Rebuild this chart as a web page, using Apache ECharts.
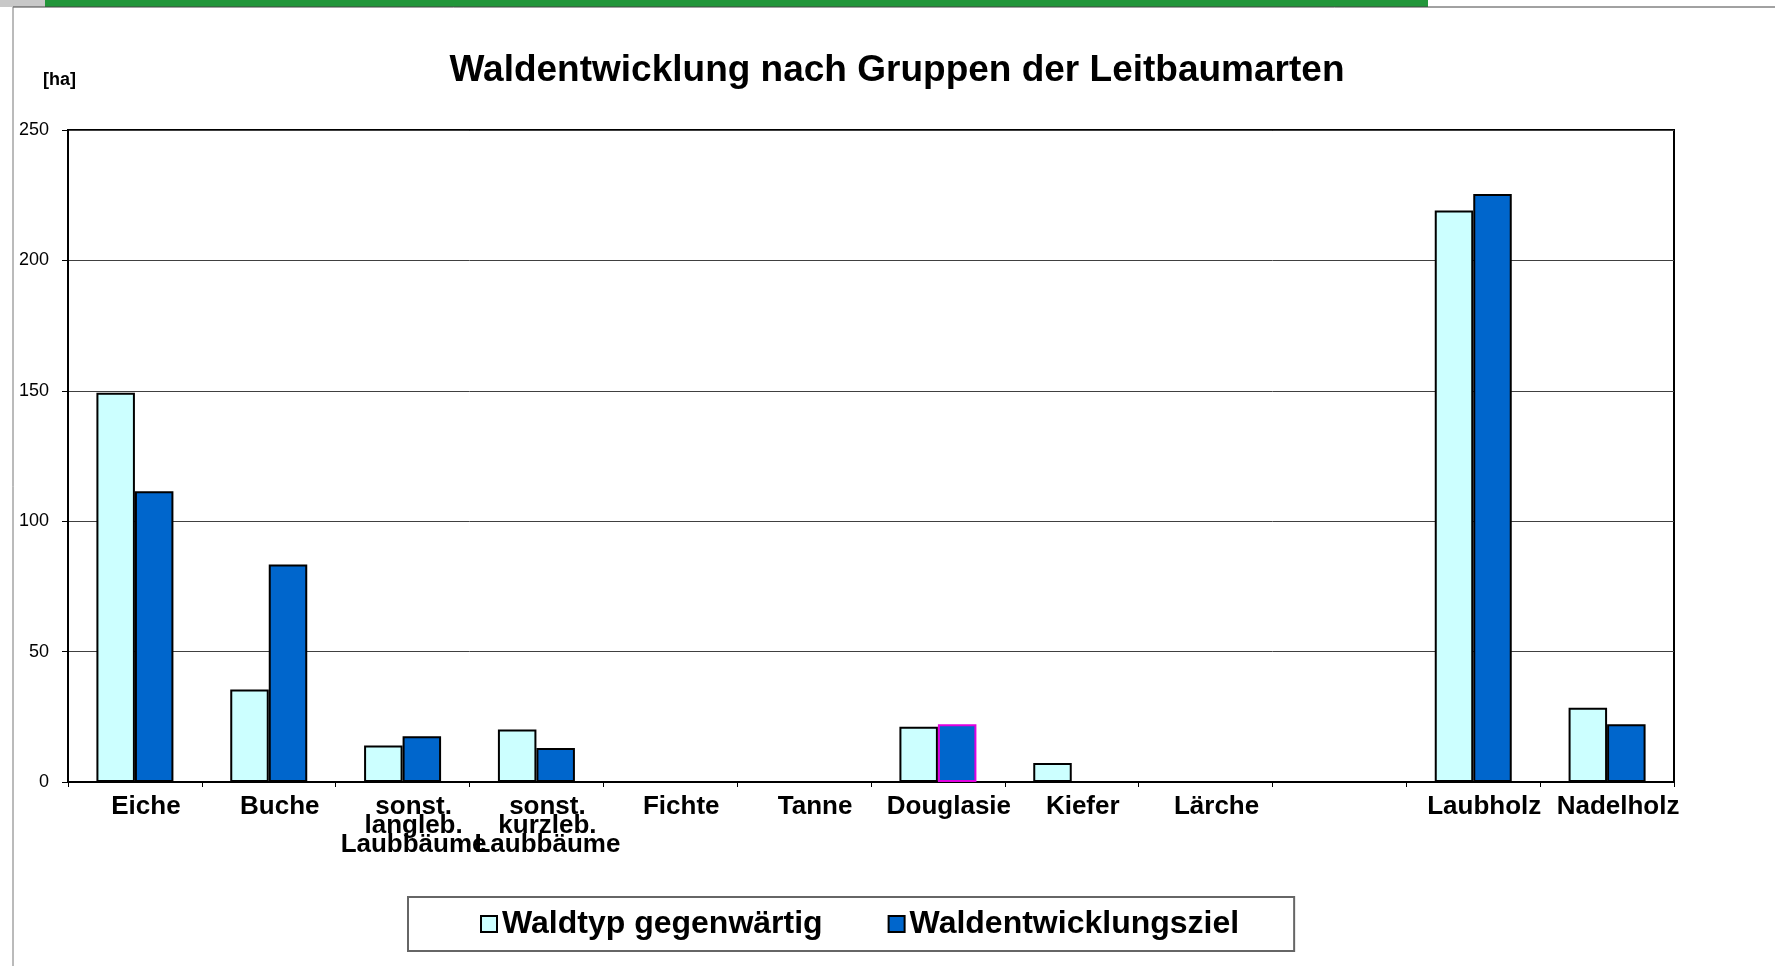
<!DOCTYPE html>
<html>
<head>
<meta charset="utf-8">
<title>Waldentwicklung nach Gruppen der Leitbaumarten</title>
<script src="https://cdn.jsdelivr.net/npm/echarts@6/dist/echarts.min.js"></script>
<style>
  html, body { margin: 0; padding: 0; background: #fff; }
  #chart { width: 1775px; height: 966px; }
</style>
</head>
<body>
<div id="chart"></div>
<script>
// Kategorien (Gruppen der Leitbaumarten), Werte in ha
var categories = ['Eiche', 'Buche', 'sonst.\nlangleb.\nLaubbäume', 'sonst.\nkurzleb.\nLaubbäume',
  'Fichte', 'Tanne', 'Douglasie', 'Kiefer', 'Lärche', '', 'Laubholz', 'Nadelholz'];
var waldtypGegenwaertig = [149.3, 35.5, 14.0, 20.1, 0, 0, 21.2, 7.3, 0, null, 219.1, 28.5];
var waldentwicklungsziel = [111.5, 83.4, 17.5, 13.0, 0, 0, 22.1, 0, 0, null, 225.5, 22.1];
var yMin = 0, yMax = 250, yStep = 50;

var font = "'Liberation Sans', Arial, sans-serif";

var chart = echarts.init(document.getElementById('chart'));

// Douglasie im Zielwert hat einen magentafarbenen Rand
var zielData = waldentwicklungsziel.map(function (v, i) {
  if (categories[i] === 'Douglasie') {
    return { value: v, itemStyle: { borderColor: '#e000e0' } };
  }
  return v;
});

var option = {
  animation: false,
  backgroundColor: '#fff',
  textStyle: { fontFamily: font, color: '#000' },
  title: {
    text: 'Waldentwicklung nach Gruppen der Leitbaumarten',
    left: 897,
    top: 52,
    textAlign: 'center',
    padding: 0,
    textStyle: { fontFamily: font, fontSize: 37, fontWeight: 'bold', color: '#000' }
  },
  graphic: [
    // Kopfleiste und Seitenrand
    { type: 'rect', shape: { x: 0, y: 0, width: 45, height: 7 }, style: { fill: '#c8c8c8' } },
    { type: 'rect', shape: { x: 45, y: 0, width: 1383, height: 7 }, style: { fill: '#22963a' } },
    { type: 'line', shape: { x1: 13, y1: 7, x2: 1775, y2: 7 }, style: { stroke: '#444', lineWidth: 1 } },
    { type: 'line', shape: { x1: 13, y1: 7, x2: 13, y2: 966 }, style: { stroke: '#777', lineWidth: 1 } },
    {
      type: 'text', left: 43, top: 71,
      style: { text: '[ha]', fontFamily: font, fontSize: 18, fontWeight: 'bold', fill: '#000' }
    }
  ],
  legend: {
    data: ['Waldtyp gegenwärtig', 'Waldentwicklungsziel'],
    left: 408,
    top: 897,
    padding: [11, 55, 11, 72],
    borderColor: '#666',
    borderWidth: 2,
    itemWidth: 16,
    itemHeight: 16,
    itemGap: 65,
    icon: 'rect',
    textStyle: { fontFamily: font, fontSize: 32, fontWeight: 'bold', color: '#000' }
  },
  grid: {
    left: 68,
    right: 101,
    top: 130,
    bottom: 184,
    show: true,
    borderColor: '#000',
    borderWidth: 2,
    containLabel: false
  },
  xAxis: {
    type: 'category',
    data: categories,
    axisLine: { lineStyle: { color: '#000', width: 2 } },
    axisTick: { show: true, length: 5, lineStyle: { color: '#000', width: 1 } },
    axisLabel: {
      interval: 0,
      margin: 15,
      fontFamily: font,
      fontSize: 26,
      fontWeight: 'bold',
      color: '#000',
      lineHeight: 19,
      padding: [0, 0, 0, 22]
    }
  },
  yAxis: {
    type: 'value',
    min: yMin,
    max: yMax,
    interval: yStep,
    axisLine: { show: true, lineStyle: { color: '#000', width: 2 } },
    axisTick: { show: true, length: 6, lineStyle: { color: '#000', width: 1 } },
    axisLabel: { margin: 19, fontFamily: font, fontSize: 18, color: '#000' },
    splitLine: { show: true, lineStyle: { color: '#404040', width: 1 } }
  },
  series: [
    {
      name: 'Waldtyp gegenwärtig',
      type: 'bar',
      data: waldtypGegenwaertig,
      barWidth: 38.5,
      barGap: '0%',
      itemStyle: { color: '#ccffff', borderColor: '#000', borderWidth: 2 }
    },
    {
      name: 'Waldentwicklungsziel',
      type: 'bar',
      data: zielData,
      barWidth: 38.5,
      barGap: '0%',
      itemStyle: { color: '#0066cc', borderColor: '#000', borderWidth: 2 }
    }
  ]
};

chart.setOption(option);
</script>
</body>
</html>
